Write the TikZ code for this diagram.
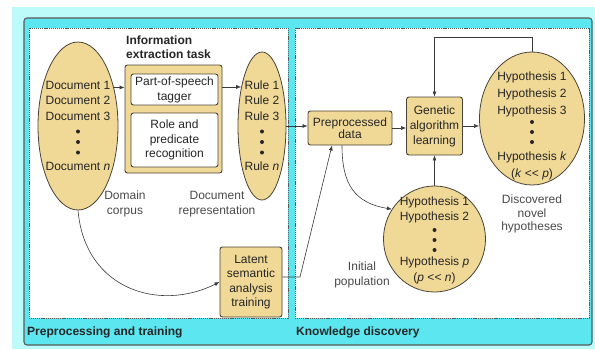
\documentclass[tikz,border=0pt]{standalone}
\usepackage{fontspec}
\setmainfont{Liberation Sans}
\usetikzlibrary{shapes.geometric,arrows.meta}
\definecolor{bgcyan}{HTML}{BDFAFA}
\definecolor{framecyan}{HTML}{5CE6F0}
\definecolor{ochre}{HTML}{F0D896}
\definecolor{edgecol}{HTML}{4A4438}
\definecolor{ink}{HTML}{262626}
\definecolor{soft}{HTML}{4A4A4A}
\definecolor{wire}{HTML}{3A3A3A}
\newcommand{\myll}{\mbox{<}\mbox{<}}
\begin{document}
\begin{tikzpicture}[x=1pt,y=-1pt,
  font=\fontsize{12}{14.5}\selectfont, text=ink,
  ell/.style={ellipse, draw=edgecol, fill=ochre, line width=0.8pt, inner sep=0pt},
  ybox/.style={rectangle, rounded corners=2.5pt, draw=edgecol, fill=ochre, line width=0.9pt, inner sep=0pt, align=center},
  wbox/.style={ybox, fill=white},
  lbl/.style={align=center, inner sep=0pt, text=soft},
  lines/.style={align=center, inner sep=0pt, font=\fontsize{12}{12}\selectfont},
  vdot/.style={fill=ink},
  arr/.style={draw=wire, line width=0.6pt, -{Latex[length=5pt,width=4pt]}},
  panel/.style={fill=white, draw=gray!70!black, line width=0.7pt, dash pattern=on 1.2pt off 0.9pt},
  ttl/.style={font=\bfseries\fontsize{12}{14}\selectfont, inner sep=0pt, text=ink}
]
\useasboundingbox (0,0) rectangle (595,349);
\fill[bgcyan] (12,7) rectangle (595,349);
\draw[fill=framecyan, draw=black!65, line width=1.1pt, rounded corners=3pt] (24,18) rectangle (592,345);
\draw[panel] (29,28) rectangle (288,318);
\draw[panel] (295,28) rectangle (589,318);

\node[ttl, anchor=west] (t1) at (27,332) {Preprocessing and training};
\node[ttl, anchor=west] (t2) at (296,332) {Knowledge discovery};

% left panel
\node[ell, minimum width=80pt, minimum height=168pt] (docs) at (78,126) {};
\node[lines] (docstext) at (78,125.5) {Document 1\\[3.5pt]Document 2\\[3.5pt]Document 3\\[38pt]Document \textit{n}};
\foreach \yy in {131.5,142,152.5} \fill[vdot] (78,\yy) circle[radius=2pt];
\node[ell, minimum width=48pt, minimum height=148pt] (rules) at (262,126) {};
\node[lines] (rulestext) at (262,125.5) {Rule 1\\[3.5pt]Rule 2\\[3.5pt]Rule 3\\[38pt]Rule \textit{n}};
\foreach \yy in {131.5,142,152.5} \fill[vdot] (262,\yy) circle[radius=2pt];

\node[ttl, anchor=west, align=left, font=\bfseries\fontsize{12}{14}\selectfont] (ietitle) at (126,47) {Information\\extraction task};
\node[ybox, minimum width=97pt, minimum height=108pt] (ie) at (173.5,119) {};
\node[wbox, minimum width=87pt, minimum height=31pt, font=\fontsize{12}{15}\selectfont] (pos) at (174.5,89.5) {Part-of-speech\\tagger};
\node[wbox, minimum width=87pt, minimum height=54pt] (role) at (174.5,140) {Role and\\predicate\\recognition};

\node[lbl] (domain) at (125,204) {Domain\\corpus};
\node[lbl] (docrep) at (217,204) {Document\\representation};

\node[ybox, minimum width=62pt, minimum height=70pt] (lsa) at (251,282) {Latent\\semantic\\analysis\\training};

% right panel
\node[ybox, minimum width=84pt, minimum height=34pt, font=\fontsize{12}{11.5}\selectfont] (prep) at (350,128) {Preprocessed\\data};
\node[ybox, minimum width=56pt, minimum height=58pt, font=\fontsize{12}{15}\selectfont] (ga) at (434.5,126) {Genetic\\algorithm\\learning};

\node[ell, minimum width=105pt, minimum height=133pt] (hypk) at (532,118.5) {};
\node[lines] (hypktext) at (532,125.5) {Hypothesis 1\\[5pt]Hypothesis 2\\[5pt]Hypothesis 3\\[34pt]Hypothesis \textit{k}\\[5pt](\textit{k} \myll{} \textit{p})};
\foreach \yy in {122,132,142} \fill[vdot] (532,\yy) circle[radius=2pt];
\node[lbl, font=\fontsize{12}{13.5}\selectfont] (disc) at (532,214) {Discovered\\novel\\hypotheses};

\node[ell, minimum width=102pt, minimum height=106pt] (hypp) at (434.5,239) {};
\node[lines] (hypptext) at (434.5,240) {Hypothesis 1\\[3pt]Hypothesis 2\\[33pt]Hypothesis \textit{p}\\[4pt](\textit{p} \myll{} \textit{n})};
\foreach \yy in {230,240,250} \fill[vdot] (434.5,\yy) circle[radius=2pt];
\node[lbl] (initpop) at (362,275) {Initial\\population};

% connectors
\coordinate (fb) at (434.5,37);
\coordinate (bend) at (300,277);
\draw[arr] (docs.47) -- (docs.47 -| ie.west);
\draw[arr] (ie.east |- rules.118) -- (rules.118);
\draw[arr] (rules.east) -- (rules.east -| prep.west);
\draw[arr] (prep.east) -- (prep.east -| ga.west);
\draw[arr] (ga.east) -- (ga.east -| hypk.west);
\draw[arr] (hypk.north) -- (hypk.north |- fb) -- (fb) -- (ga.north);
\draw[arr] (hypp.north) -- (ga.south);
\draw[arr] ([xshift=-8pt]prep.south) .. controls (342,185) and (355,203) .. (hypp.145);
\draw[arr] ([yshift=5pt]lsa.east) -- (bend) -- ([xshift=-18pt]prep.south);
\draw[arr] (docs.south) .. controls (85,290) and (160,312) .. (lsa.west);
\end{tikzpicture}
\end{document}
